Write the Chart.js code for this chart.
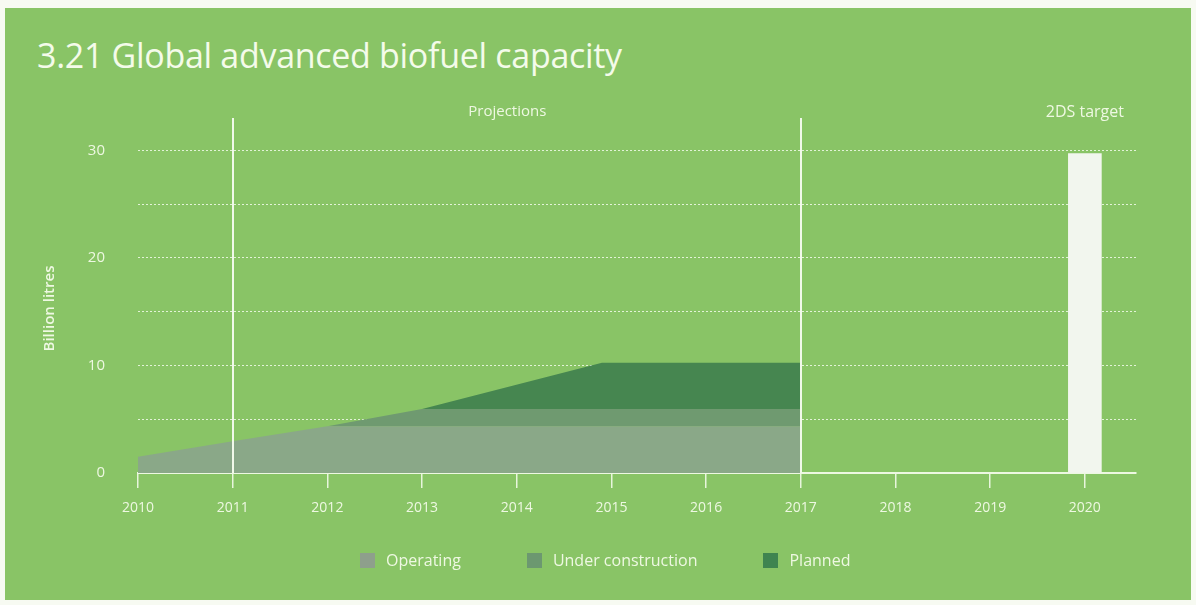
<!DOCTYPE html>
<html>
<head>
<meta charset="utf-8">
<script src="https://cdn.jsdelivr.net/npm/chart.js@4"></script>
<style>
  html, body { margin: 0; padding: 0; background: #f7faf2; }
  body { width: 1196px; height: 605px; position: relative; overflow: hidden; font-family: "Open Sans", "Noto Sans", sans-serif; }
  #panel { position: absolute; left: 5px; top: 8px; width: 1186px; height: 592px; background: #89c466; }
  #title { position: absolute; left: 37px; top: 38px; line-height: 1; color: #f4fbea; font-size: 34px; font-weight: 400; white-space: nowrap; letter-spacing: -0.3px; }
  #chartBox { position: absolute; left: 0; top: 0; width: 1196px; height: 605px; }
  #legend { position: absolute; top: 549px; left: 360px; display: flex; align-items: center; color: #eef8e2; font-size: 16px; line-height: 22px; }
  .item { display: flex; align-items: center; margin-right: 66px; }
  .item:last-child { margin-right: 0; }
  .sw { width: 15px; height: 15px; margin-right: 11px; }
</style>
</head>
<body>
<div id="panel"></div>
<div id="title">3.21 Global advanced biofuel capacity</div>
<div id="chartBox"><canvas id="c" width="1196" height="605"></canvas></div>
<div id="legend"></div>
<script>
// Years where the capacity profile changes slope
const years = [2010, 2011, 2012, 2013, 2014.9, 2017];
// Billion litres per status (stacked)
const operating = [1.5, 2.95, 4.35, 4.35, 4.35, 4.35];
const underConstruction = [0, 0, 0, 1.6, 1.6, 1.6];
const planned = [0, 0, 0, 0, 4.3, 4.3];
// 2DS target for 2020
const targetYear = 2020;
const targetValue = 29.7;
const seriesNames = ['Operating', 'Under construction', 'Planned'];
const yTickLabels = [0, 10, 20, 30];
const xTickYears = [2010, 2011, 2012, 2013, 2014, 2015, 2016, 2017, 2018, 2019, 2020];

const fills = ['#8aa888', '#6f9a70', '#468650'];
const swatches = ['#8e9f8c', '#6c9870', '#3f8450'];
const light = '#eef8e2';
const font = '"Open Sans", sans-serif';

function pts(vals) { return years.map((y, i) => ({ x: y, y: vals[i] })); }

// HTML legend
const legendEl = document.getElementById('legend');
seriesNames.forEach((n, i) => {
  const it = document.createElement('div');
  it.className = 'item';
  it.innerHTML = '<div class="sw" style="background:' + swatches[i] + '"></div><span>' + n + '</span>';
  legendEl.appendChild(it);
});

// Period markers, their captions and the value-axis title
const markers = {
  id: 'markers',
  afterDatasetsDraw(chart) {
    const { ctx, chartArea, scales } = chart;
    const x = scales.x;
    ctx.save();
    ctx.strokeStyle = '#f1f9ea';
    ctx.lineWidth = 2;
    [2011, 2017].forEach(v => {
      const px = Math.round(x.getPixelForValue(v));
      ctx.beginPath();
      ctx.moveTo(px, chartArea.top);
      ctx.lineTo(px, chartArea.bottom);
      ctx.stroke();
    });
    ctx.fillStyle = light;
    ctx.font = '15px ' + font;
    ctx.textAlign = 'center';
    ctx.textBaseline = 'middle';
    ctx.fillText('Projections', x.getPixelForValue(2013.9), chartArea.top - 6);
    ctx.font = '16px ' + font;
    ctx.fillText('2DS target', x.getPixelForValue(2020), chartArea.top - 6);

    ctx.translate(50, (chartArea.top + chartArea.bottom) / 2 + 13);
    ctx.rotate(-Math.PI / 2);
    ctx.font = '600 15px ' + font;
    ctx.fillText('Billion litres', 0, 0);
    ctx.restore();
  }
};

new Chart(document.getElementById('c'), {
  type: 'line',
  data: {
    datasets: [
      { label: seriesNames[0], data: pts(operating), backgroundColor: fills[0], fill: 'origin', borderWidth: 0, pointRadius: 0, tension: 0 },
      { label: seriesNames[1], data: pts(underConstruction), backgroundColor: fills[1], fill: '-1', borderWidth: 0, pointRadius: 0, tension: 0 },
      { label: seriesNames[2], data: pts(planned), backgroundColor: fills[2], fill: '-1', borderWidth: 0, pointRadius: 0, tension: 0 },
      { type: 'bar', label: '2DS target', data: [{ x: targetYear, y: targetValue }], backgroundColor: '#f2f6ee', barThickness: 33, stack: 'target' }
    ]
  },
  options: {
    responsive: false,
    animation: false,
    layout: { padding: { left: 0, right: 60, top: 118, bottom: 82 } },
    plugins: { legend: { display: false }, tooltip: { enabled: false } },
    scales: {
      x: {
        type: 'linear', min: 2010, max: 2020.54, offset: false,
        afterFit(s) { s.height = 50; },
        afterBuildTicks(s) { s.ticks = xTickYears.map(v => ({ value: v })); },
        ticks: { color: light, font: { size: 14, family: font }, padding: 12, maxRotation: 0, callback: v => String(v) },
        grid: { offset: false, drawOnChartArea: false, drawTicks: true, tickLength: 15, color: '#e8f5dc', lineWidth: 1.5 },
        border: { display: true, color: '#edf8e2', width: 2 }
      },
      y: {
        stacked: true, min: 0, max: 33,
        afterFit(s) { s.width = 138; },
        ticks: { stepSize: 5, includeBounds: false, color: light, padding: 33, font: { size: 15, family: font },
                 callback: v => (yTickLabels.includes(v) ? String(v) : '') },
        grid: { color: 'rgba(236,248,226,0.9)', lineWidth: 1, drawTicks: false },
        border: { display: false, dash: [2, 2] }
      }
    }
  },
  plugins: [markers]
});
</script>
</body>
</html>
